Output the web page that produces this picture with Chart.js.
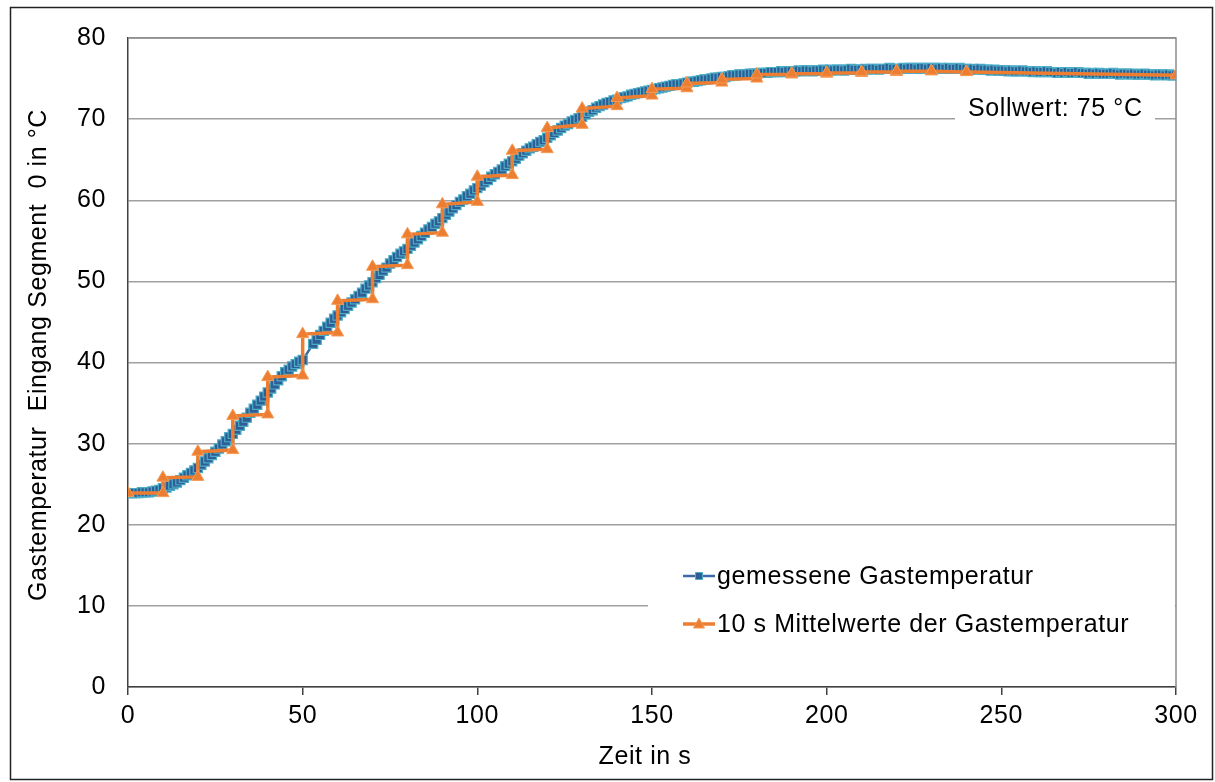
<!DOCTYPE html>
<html>
<head>
<meta charset="utf-8">
<script src="https://cdn.jsdelivr.net/npm/chart.js@4.4.1/dist/chart.umd.min.js"></script>
<style>
html,body{margin:0;padding:0;background:#fff;}
canvas{display:block;}
</style>
</head>
<body>
<canvas id="c" width="1215" height="782"></canvas>
<script>
// ---- data ----
// measured gas temperature, one value per second from 0 s to 300 s (null = no sample)
const measuredTemp = [
  23.9,23.9,23.9,23.9,24.0,24.0,24.0,24.1,24.2,24.3,
  24.5,24.6,24.8,25.0,25.2,25.5,25.8,26.1,26.4,26.7,
  27.0,27.4,27.8,28.2,28.6,29.0,29.4,29.9,30.3,30.8,
  31.2,31.7,32.2,32.7,33.2,33.8,34.3,34.8,35.3,35.8,
  36.3,36.8,37.3,37.8,38.3,38.8,39.1,39.5,39.8,40.1,
  40.3,null,null,42.3,42.8,43.4,43.9,44.4,44.9,45.4,
  45.8,46.2,46.6,47.0,47.4,47.8,48.2,48.6,49.1,49.5,
  49.9,50.4,50.8,51.3,51.7,52.2,52.6,53.0,53.4,53.7,
  54.0,54.4,54.8,55.2,55.6,56.0,56.4,56.7,57.1,57.4,
  57.8,58.2,58.6,59.0,59.4,59.8,60.1,60.5,60.8,61.2,
  61.5,61.8,62.2,62.5,62.9,63.2,63.5,63.8,64.2,64.5,
  64.8,65.1,65.5,65.8,66.1,66.4,66.6,66.9,67.2,67.4,
  67.7,68.0,68.3,68.6,68.9,69.2,69.4,69.7,69.9,70.1,
  70.3,70.6,70.9,71.1,71.4,71.6,71.8,72.0,72.1,72.3,
  72.4,72.6,72.7,72.8,73.0,73.1,73.2,73.3,73.4,73.5,
  73.6,73.7,73.8,73.9,74.0,74.1,74.2,74.3,74.3,74.4,
  74.5,74.6,74.6,74.7,74.8,74.9,74.9,75.0,75.1,75.1,
  75.2,75.2,75.3,75.4,75.4,75.5,75.5,75.5,75.6,75.6,
  75.6,75.7,75.7,75.7,75.8,75.8,75.8,75.9,75.8,75.9,
  75.9,75.9,76.0,75.9,76.0,76.0,75.9,76.0,76.0,76.1,
  76.0,76.1,76.0,76.1,76.1,76.0,76.1,76.2,76.1,76.1,
  76.1,76.2,76.1,76.2,76.2,76.1,76.2,76.2,76.3,76.2,
  76.2,76.2,76.3,76.2,76.3,76.3,76.2,76.3,76.3,76.2,
  76.3,76.3,76.2,76.3,76.2,76.3,76.2,76.2,76.3,76.2,
  76.2,76.1,76.2,76.1,76.2,76.1,76.1,76.0,76.1,76.0,
  76.0,76.0,75.9,76.0,75.9,75.9,76.0,75.9,75.9,75.8,
  75.9,75.8,75.8,75.9,75.8,75.8,75.7,75.8,75.7,75.8,
  75.7,75.7,75.8,75.7,75.7,75.6,75.7,75.6,75.7,75.6,
  75.6,75.6,75.7,75.6,75.5,75.6,75.6,75.5,75.6,75.5,
  75.5,75.6,75.5,75.5,75.4,75.5,75.5,75.4,75.5,75.4,
  75.4
];
// 10 s mean values drawn as a staircase: corner times and values
const meanTimes = [0,10,10,20,20,30,30,40,40,50,50,60,60,70,70,80,80,90,90,100,
  100,110,110,120,120,130,130,140,140,150,150,160,160,170,170,180,180,190,190,200,
  200,210,210,220,220,230,230,240,240,300];
const meanTemp = [23.9,23.9,25.8,25.9,29.0,29.2,33.4,33.6,38.2,38.4,43.5,43.7,47.6,47.8,51.8,52.0,55.8,56.0,59.5,59.8,
  62.9,63.1,66.1,66.3,68.9,69.3,71.3,71.6,72.6,72.9,73.7,73.8,74.4,74.5,74.9,75.0,75.5,75.5,75.6,75.6,
  75.7,75.7,75.8,75.8,75.9,75.9,75.9,75.8,75.8,75.4];
const xTicks = [0,50,100,150,200,250,300];
const yTicks = [0,10,20,30,40,50,60,70,80];
const seriesNames = ['gemessene Gastemperatur','10 s Mittelwerte der Gastemperatur'];
const xTitle = 'Zeit in s';
const yTitle = 'Gastemperatur  Eingang Segment  0 in °C';
const setpointLabel = 'Sollwert: 75 °C';

// ---- build chart ----
const FONT = '"Liberation Sans", Arial, sans-serif';
const FS = 25;
const LS = '0.6px';
const blueData = measuredTemp.map((v, i) => ({x: i, y: v}));
const orangeData = meanTimes.map((t, i) => ({x: t, y: meanTemp[i]}));

const BLUE_LINE = '#3A6BA5', BLUE_FILL = '#2E5E95', BLUE_EDGE = '#4BACC6';
const ORANGE = '#ED7D31', ORANGE_EDGE = '#F49A55';

const decor = {
  id: 'decor',
  beforeDraw(chart) {
    chart.ctx.letterSpacing = LS;
  },
  beforeDatasetsDraw(chart) {
    const ctx = chart.ctx, a = chart.chartArea;
    ctx.save();
    ctx.strokeStyle = '#8c8c8c'; ctx.lineWidth = 1.5;
    ctx.beginPath();
    ctx.moveTo(a.left, a.top); ctx.lineTo(a.right, a.top); ctx.lineTo(a.right, a.bottom);
    ctx.stroke();
    ctx.fillStyle = '#fff';
    ctx.fillRect(648, 545, a.right - 649, 115);
    ctx.fillRect(955, 88, 200, 40);
    ctx.restore();
  },
  afterDraw(chart) {
    const ctx = chart.ctx;
    ctx.save();
    ctx.letterSpacing = LS;
    ctx.strokeStyle = '#222'; ctx.lineWidth = 1.5;
    ctx.strokeRect(10.5, 7.5, 1202, 772);
    ctx.fillStyle = '#000';
    ctx.font = FS + 'px ' + FONT;
    ctx.textBaseline = 'middle';
    ctx.textAlign = 'left';
    ctx.fillText(setpointLabel, 968, 109);
    ctx.textAlign = 'center';
    ctx.fillText(xTitle, 645, 757);
    ctx.save();
    ctx.translate(39, 355);
    ctx.rotate(-Math.PI / 2);
    ctx.fillText(yTitle, 0, 0);
    ctx.restore();
    // legend
    const rows = [576, 624];
    const ds = chart.data.datasets;
    rows.forEach((y, i) => {
      const d = ds[i === 0 ? 1 : 0];
      const x0 = 683, x1 = 715, xm = (x0 + x1) / 2;
      ctx.strokeStyle = d.borderColor; ctx.lineWidth = d.borderWidth;
      ctx.beginPath(); ctx.moveTo(x0, y); ctx.lineTo(x1, y); ctx.stroke();
      ctx.fillStyle = d.pointBackgroundColor; ctx.strokeStyle = d.pointBorderColor; ctx.lineWidth = 1;
      ctx.beginPath();
      if (i === 0) { ctx.rect(xm - 3.5, y - 3.5, 7, 7); }
      else { ctx.moveTo(xm, y - 6); ctx.lineTo(xm + 5.5, y + 4); ctx.lineTo(xm - 5.5, y + 4); ctx.closePath(); }
      ctx.fill(); ctx.stroke();
      ctx.fillStyle = '#000';
      ctx.textAlign = 'left';
      ctx.fillText(seriesNames[i], 717, y + 1);
    });
    ctx.restore();
  }
};

new Chart(document.getElementById('c'), {
  type: 'line',
  data: {
    datasets: [
      {
        label: seriesNames[1], data: orangeData, order: 0,
        borderColor: ORANGE, borderWidth: 3.5,
        pointStyle: 'triangle', pointRadius: 7, pointBackgroundColor: ORANGE,
        pointBorderColor: ORANGE_EDGE, pointBorderWidth: 1, tension: 0
      },
      {
        label: seriesNames[0], data: blueData, order: 1, spanGaps: true,
        borderColor: BLUE_LINE, borderWidth: 2.5,
        pointStyle: 'rect', pointRadius: 6.5, pointBackgroundColor: BLUE_FILL,
        pointBorderColor: BLUE_EDGE, pointBorderWidth: 1.2, tension: 0
      }
    ]
  },
  options: {
    responsive: false, animation: false, devicePixelRatio: 1,
    layout: { padding: { left: 0, top: 38, right: 39, bottom: 0 } },
    plugins: { legend: { display: false }, tooltip: { enabled: false } },
    scales: {
      x: {
        type: 'linear', min: 0, max: 300,
        afterFit: s => { s.height = 95; },
        afterBuildTicks: s => { s.ticks = xTicks.map(v => ({value: v})); },
        grid: { drawOnChartArea: false, drawTicks: true, tickLength: 8, color: '#404040', lineWidth: 1.5 },
        border: { color: '#404040', width: 1.5 },
        ticks: { color: '#000', font: { family: FONT, size: FS }, padding: 6, maxRotation: 0 }
      },
      y: {
        type: 'linear', min: 0, max: 80,
        afterFit: s => { s.width = 128; },
        afterBuildTicks: s => { s.ticks = yTicks.map(v => ({value: v})); },
        grid: { drawTicks: false, color: '#a0a0a0', lineWidth: 1.5 },
        border: { color: '#404040', width: 1.5 },
        ticks: { color: '#000', font: { family: FONT, size: FS }, padding: 22 }
      }
    }
  },
  plugins: [decor]
});
</script>
</body>
</html>
